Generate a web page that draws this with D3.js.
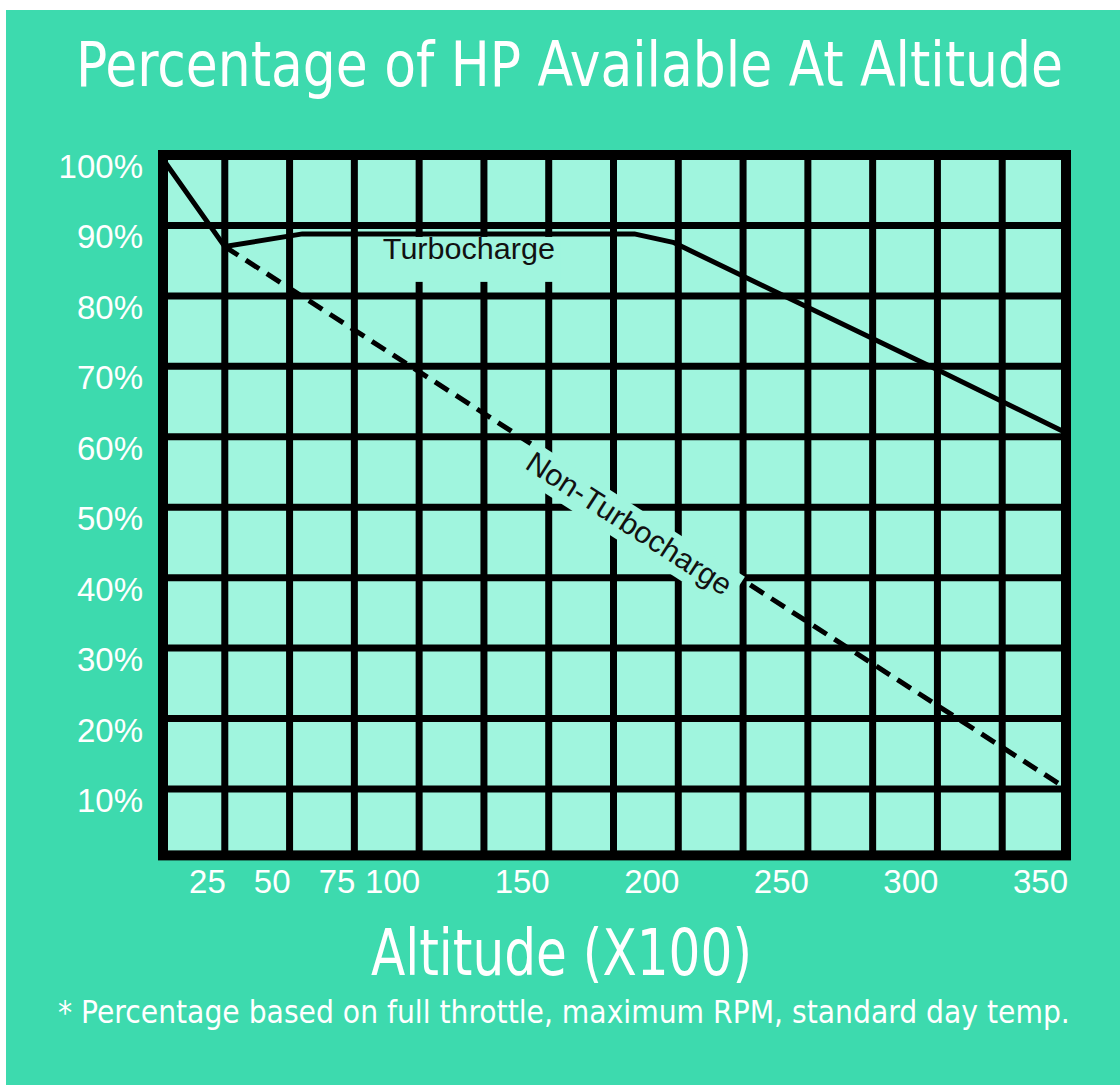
<!DOCTYPE html>
<html><head><meta charset="utf-8">
<script src="https://cdn.jsdelivr.net/npm/d3@7"></script>
<style>html,body{margin:0;padding:0;background:#fff}</style>
</head><body>
<svg id="c" width="1120" height="1085"></svg>
<script>
// ---- data ----
const altitudeTicks = [25, 50, 75, 100, 150, 200, 250, 300, 350];
const gridAltitudes = [25, 50, 75, 100, 125, 150, 175, 200, 225, 250, 275, 300, 325];
const percentTicks = [100, 90, 80, 70, 60, 50, 40, 30, 20, 10];
const gridPercents = [10, 20, 30, 40, 50, 60, 70, 80, 90];
const turboAlt = [0, 25, 55, 183, 198, 300, 350];
const turboPct = [100, 87, 88.8, 88.8, 87.6, 69.5, 60.5];
const nonTurboAlt = [25, 350];
const nonTurboPct = [87, 10];
const titleText = "Percentage of HP Available At Altitude";
const xTitleText = "Altitude (X100)";
const noteText = "* Percentage based on full throttle, maximum RPM, standard day temp.";
const turboLabel = "Turbocharge";
const nonTurboLabel = "Non-Turbocharge";

// ---- style ----
const outerGreen = "#3ddaae";
const innerGreen = "#a0f5de";
const narrow = "'DejaVu Sans Condensed','Liberation Sans Narrow',sans-serif";
const sans = "'Liberation Sans',Arial,sans-serif";

const svg = d3.select("#c");
svg.append("rect").attr("x", 0).attr("y", 0).attr("width", 1120).attr("height", 1085).attr("fill", "#fff");
svg.append("rect").attr("x", 6).attr("y", 10).attr("width", 1114).attr("height", 1075).attr("fill", outerGreen);

const x = d3.scaleLinear().domain([0, 350]).range([160, 1067]);
const y = d3.scaleLinear().domain([0, 100]).range([859.4, 155]);

const pLeft = x(0) + 3, pRight = x(350) - 1, pTop = y(100), pBottom = y(0) - 4;

// plot area
svg.append("rect").attr("x", pLeft).attr("y", pTop).attr("width", pRight - pLeft).attr("height", pBottom - pTop).attr("fill", innerGreen);

// grid
const g = svg.append("g").attr("stroke", "#000").attr("stroke-width", 7);
g.selectAll("line.v").data(gridAltitudes).join("line").attr("class", "v")
  .attr("x1", d => x(d)).attr("x2", d => x(d)).attr("y1", pTop).attr("y2", pBottom);
g.selectAll("line.h").data(gridPercents).join("line").attr("class", "h")
  .attr("x1", pLeft).attr("x2", pRight).attr("y1", d => y(d)).attr("y2", d => y(d));

// dashed non-turbo line
const line = d3.line().x(d => x(d[0])).y(d => y(d[1]));
const ntData = nonTurboAlt.map((a, i) => [a, nonTurboPct[i]]);
svg.append("path").attr("d", line(ntData)).attr("fill", "none")
  .attr("stroke", "#000").attr("stroke-width", 5).attr("stroke-dasharray", "16,9");

// Non-turbo label (knockout + rotated text)
const labelAlt = 184;
const p0 = [x(nonTurboAlt[0]), y(nonTurboPct[0])], p1 = [x(nonTurboAlt[1]), y(nonTurboPct[1])];
const ang = Math.atan2(p1[1] - p0[1], p1[0] - p0[0]);
const lx = x(labelAlt), ly = p0[1] + (lx - p0[0]) * Math.tan(ang);
const ntg = svg.append("g").attr("transform", `translate(${lx},${ly}) rotate(${ang * 180 / Math.PI})`);
ntg.append("rect").attr("x", -126).attr("y", -4).attr("width", 252).attr("height", 38).attr("fill", innerGreen);
ntg.append("text").attr("x", 0).attr("y", 24).attr("text-anchor", "middle")
  .attr("font-family", sans).attr("font-size", 30).attr("fill", "#111")
  .attr("textLength", 238).attr("lengthAdjust", "spacingAndGlyphs").text(nonTurboLabel);

// Turbo label knockout
const tlx = x(86), tly = y(80) - 14;
svg.append("rect").attr("x", tlx - 22).attr("y", y(88.8) + 3).attr("width", 200).attr("height", tly - y(88.8) - 3).attr("fill", innerGreen);
svg.append("text").attr("x", tlx).attr("y", y(85.2)).attr("font-family", sans).attr("font-size", 30)
  .attr("fill", "#111").attr("textLength", 172).attr("lengthAdjust", "spacingAndGlyphs").text(turboLabel);

// turbo line
const tData = turboAlt.map((a, i) => [a, turboPct[i]]);
svg.append("path").attr("d", line(tData)).attr("fill", "none")
  .attr("stroke", "#000").attr("stroke-width", 5).attr("stroke-linejoin", "round");

// frame
svg.append("rect").attr("x", pLeft).attr("y", pTop).attr("width", pRight - pLeft).attr("height", pBottom - pTop)
  .attr("fill", "none").attr("stroke", "#000").attr("stroke-width", 10);

// y labels
svg.append("g").selectAll("text").data(percentTicks).join("text")
  .attr("x", 143).attr("y", d => y(d) + 23).attr("text-anchor", "end")
  .attr("font-family", sans).attr("font-size", 33).attr("fill", "#fff")
  .text(d => d + "%");

// x labels
svg.append("g").selectAll("text").data(altitudeTicks).join("text")
  .attr("x", d => x(d) + 1).attr("y", 893).attr("text-anchor", "end")
  .attr("font-family", sans).attr("font-size", 33).attr("fill", "#fff")
  .text(d => d);

// condensed titles: size to target width, stretch vertically to target height
function fitText(txt, x0, baseline, width, sizeH) {
  const t = svg.append("text").attr("font-family", narrow).attr("font-size", sizeH)
    .attr("fill", "#fff").text(txt);
  const w = t.node().getComputedTextLength();
  const fs = sizeH * width / w;
  t.attr("font-size", fs).attr("x", 0).attr("y", 0)
    .attr("transform", `translate(${x0},${baseline}) scale(1,${sizeH / fs})`);
}
fitText(titleText, 76, 86, 987, 63);
fitText(xTitleText, 371, 975, 381, 64);
fitText(noteText, 58, 1023, 1012, 32);
</script>
</body></html>
